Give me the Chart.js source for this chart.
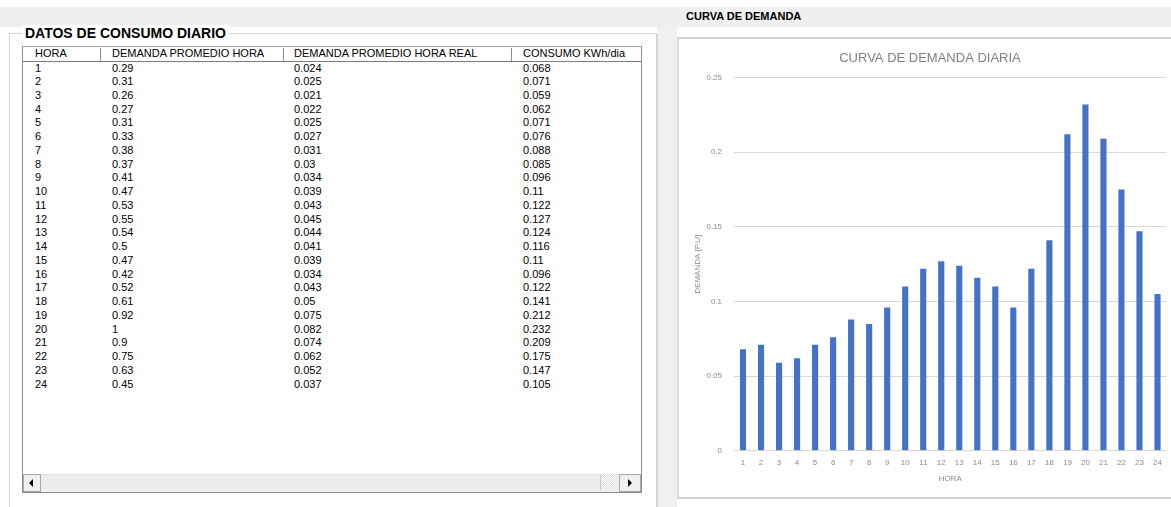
<!DOCTYPE html>
<html>
<head>
<meta charset="utf-8">
<script src="https://cdn.jsdelivr.net/npm/chart.js@4.4.1/dist/chart.umd.min.js"></script>
<style>
  html, body { margin: 0; padding: 0; }
  body { width: 1171px; height: 507px; position: relative; overflow: hidden; background: #ffffff;
         font-family: "Liberation Sans", Arial, sans-serif; }
  .abs { position: absolute; }
  #topband { left: 0; top: 7px; width: 1171px; height: 20px; background: #efefef; }
  #sep { left: 657px; top: 27px; width: 20px; height: 480px; background: #f0f0f0; }
  #grp { left: 9px; top: 33px; width: 646px; height: 480px; border-left: 1px solid #d5d5d5; border-top: 1px solid #d5d5d5; border-right: 2px solid #d5d5d5; }
  #grpTitle { left: 22px; top: 25px; padding: 0 3px; background: #fff; font-weight: bold; font-size: 14px; color: #000; }
  #list { left: 22px; top: 46px; width: 618px; height: 445px; border: 1px solid #8a8a8a; border-top-color: #a0a0a0; background: #fff; }
  #hdrLine { left: 23px; top: 61px; width: 618px; height: 1px; background: #7a7a7a; }
  .colsep { position: absolute; top: 48px; width: 1px; height: 13px; background: #8a8a8a; }
  .cell { position: absolute; font-size: 11px; color: #000; white-space: nowrap; line-height: 13px; }
  #sbar { left: 23px; top: 474px; width: 618px; height: 17px; background: #f2f2f2; border-top: 1px solid #e3e3e3; }
  .sbtn { position: absolute; top: 474px; height: 16px; background: #f0f0f0; border: 1px solid #a8a8a8; }
  #thumb { left: 40px; top: 475px; width: 560px; height: 15px; background: #ececec; border-right: 1px solid #c8c8c8; }
  #track { left: 601px; top: 475px; width: 17px; height: 16px;
           background-image: repeating-conic-gradient(#dcdcdc 0% 25%, #ffffff 0% 50%); background-size: 2px 2px; }
  .tri { position: absolute; width: 0; height: 0; border-top: 4px solid transparent; border-bottom: 4px solid transparent; }
  #curvaTitle { left: 686px; top: 10px; font-weight: bold; font-size: 11px; color: #000; }
  #imgFrame { left: 677px; top: 37px; width: 494px; height: 462px; border-top: 2px solid #d4d4d4; border-left: 2px solid #dcdcdc; border-bottom: 2px solid #d4d4d4; box-sizing: border-box; }
  #chartBox { left: 679px; top: 39px; width: 490px; height: 459px; }
  #chartBox canvas { filter: blur(0.35px); }
</style>
</head>
<body>
<div class="abs" id="topband"></div>
<div class="abs" id="sep"></div>
<div class="abs" id="grp"></div>
<div class="abs" id="grpTitle">DATOS DE CONSUMO DIARIO</div>
<div class="abs" id="list"></div>
<div class="abs" id="hdrLine"></div>
<div id="cells"></div>
<div class="abs" id="sbar"></div>
<div class="abs" id="thumb"></div>
<div class="abs" id="track"></div>
<div class="sbtn" style="left:23px;width:16px;"></div>
<div class="tri" style="left:29px;top:479px;border-right:4px solid #000;"></div>
<div class="sbtn" style="left:619px;width:20px;"></div>
<div class="tri" style="left:628px;top:479px;border-left:4px solid #000;"></div>

<div class="abs" id="curvaTitle">CURVA DE DEMANDA</div>
<div class="abs" id="imgFrame"></div>
<div class="abs" id="chartBox"><canvas id="c"></canvas></div>

<script>
// Hourly consumption data
const horas = ["1","2","3","4","5","6","7","8","9","10","11","12","13","14","15","16","17","18","19","20","21","22","23","24"];
const demandaPromedioHora = ["0.29","0.31","0.26","0.27","0.31","0.33","0.38","0.37","0.41","0.47","0.53","0.55","0.54","0.5","0.47","0.42","0.52","0.61","0.92","1","0.9","0.75","0.63","0.45"];
const demandaPromedioReal = ["0.024","0.025","0.021","0.022","0.025","0.027","0.031","0.03","0.034","0.039","0.043","0.045","0.044","0.041","0.039","0.034","0.043","0.05","0.075","0.082","0.074","0.062","0.052","0.037"];
const consumoKWh = [0.068,0.071,0.059,0.062,0.071,0.076,0.088,0.085,0.096,0.11,0.122,0.127,0.124,0.116,0.11,0.096,0.122,0.141,0.212,0.232,0.209,0.175,0.147,0.105];
const columnas = ["HORA","DEMANDA PROMEDIO HORA","DEMANDA PROMEDIO HORA REAL","CONSUMO KWh/dia"];
const yTicks = [0, 0.05, 0.1, 0.15, 0.2, 0.25];

// List view: header, column separators and rows
const cellsEl = document.getElementById('cells');
const colX = [35, 112, 294, 523];
const sepX = [100, 283, 511];
function addCell(text, x, y) {
  const d = document.createElement('div');
  d.className = 'cell';
  d.style.left = x + 'px';
  d.style.top = y + 'px';
  d.textContent = text;
  cellsEl.appendChild(d);
}
columnas.forEach((t, i) => addCell(t, colX[i], 47));
sepX.forEach(x => {
  const s = document.createElement('div');
  s.className = 'colsep';
  s.style.left = x + 'px';
  cellsEl.appendChild(s);
});
horas.forEach((h, i) => {
  const y = 61.5 + i * 13.74;
  addCell(h, colX[0], y);
  addCell(demandaPromedioHora[i], colX[1], y);
  addCell(demandaPromedioReal[i], colX[2], y);
  addCell(String(consumoKWh[i]), colX[3], y);
});

// Daily demand curve
const gris = '#8a8a8a';
new Chart(document.getElementById('c'), {
  type: 'bar',
  data: {
    labels: horas,
    datasets: [{
      data: consumoKWh,
      backgroundColor: '#4472c4',
      borderWidth: 0,
      barPercentage: 0.34,
      categoryPercentage: 1.0
    }]
  },
  options: {
    responsive: true,
    maintainAspectRatio: false,
    animation: false,
    layout: { padding: { left: 14, right: 2, top: 0, bottom: 14 } },
    plugins: {
      legend: { display: false },
      tooltip: { enabled: false },
      title: {
        display: true,
        text: 'CURVA DE DEMANDA DIARIA',
        color: '#808080',
        font: { family: 'Liberation Sans', size: 13, weight: 'normal' },
        padding: { top: 12, bottom: 11 }
      }
    },
    scales: {
      x: {
        grid: { display: false, drawTicks: false },
        border: { display: false },
        ticks: { color: gris, font: { family: 'Liberation Sans', size: 8 }, padding: 7, maxRotation: 0, autoSkip: false },
        title: { display: true, text: 'HORA', color: gris, font: { family: 'Liberation Sans', size: 8 }, padding: { top: 0, bottom: 0 } }
      },
      y: {
        min: 0,
        max: 0.25,
        afterBuildTicks: (scale) => { scale.ticks = yTicks.map(v => ({ value: v })); },
        afterFit: (scale) => { scale.width = 41; },
        grid: { color: '#d9d9d9', lineWidth: 1, drawTicks: false },
        border: { display: false },
        ticks: { color: gris, font: { family: 'Liberation Sans', size: 8 }, padding: 12,
                 callback: (v) => String(Number(v.toFixed(2))) },
        title: { display: true, text: 'DEMANDA [P.U]', color: gris, font: { family: 'Liberation Sans', size: 8 }, padding: 0 }
      }
    }
  }
});
</script>
</body>
</html>
